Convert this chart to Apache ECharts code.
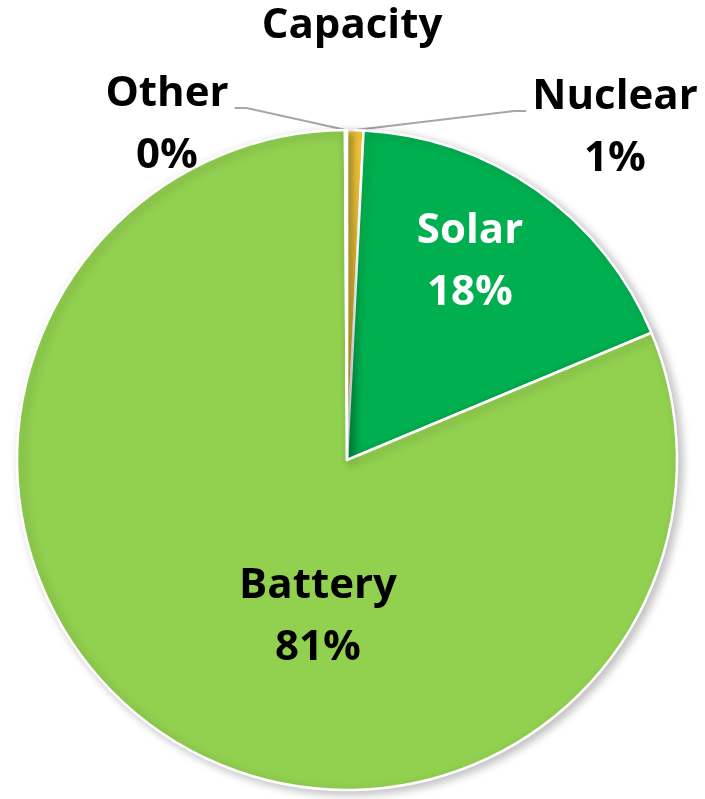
<!DOCTYPE html>
<html>
<head>
<meta charset="utf-8">
<script src="https://cdn.jsdelivr.net/npm/echarts@6/dist/echarts.min.js"></script>
<style>
html,body{margin:0;padding:0;background:#fff;}
#chart{width:705px;height:799px;}
</style>
</head>
<body>
<div id="chart"></div>
<script>
const categories = ['Nuclear', 'Solar', 'Battery', 'Other'];
const values = [0.8, 17.9, 81.2, 0.1];
const sliceColors = ['#FFD33D', '#00B050', '#92D050', '#A5A5A5'];
const labelColors = ['#000000', '#FFFFFF', '#000000', '#000000'];

const CX = 347, CY = 460, R = 330;
const FONT = '"Open Sans", "Liberation Sans", sans-serif';

// label anchor positions (label layout, not data)
const labelAnchors = {
  Nuclear: [615, 128],
  Solar: [470, 262],
  Battery: [318, 617],
  Other: [167, 125]
};

const total = values.reduce((a, b) => a + b, 0);
function midAngle(i) {
  let cum = 0;
  for (let k = 0; k < i; k++) cum += values[k];
  return ((cum + values[i] / 2) / total) * 2 * Math.PI; // clockwise from top
}

const chart = echarts.init(document.getElementById('chart'));
chart.setOption({
  animation: false,
  title: {
    text: 'Capacity',
    left: 347,
    top: 0,
    textAlign: 'center',
    textStyle: { fontFamily: FONT, fontWeight: 'bold', fontSize: 42, color: '#000' }
  },
  series: [{
    type: 'pie',
    center: [CX, CY],
    radius: R,
    startAngle: 90,
    clockwise: true,
    percentPrecision: 0,
    avoidLabelOverlap: false,
    itemStyle: {
      borderColor: '#FFFFFF',
      borderWidth: 2.5,
      shadowBlur: 10,
      shadowOffsetX: 4,
      shadowOffsetY: 3,
      shadowColor: 'rgba(0,0,0,0.25)'
    },
    label: {
      show: true,
      position: 'outside',
      formatter: '{b}\n{d}%',
      fontFamily: FONT,
      fontWeight: 'bold',
      fontSize: 42,
      lineHeight: 62,
      align: 'center'
    },
    labelLine: {
      show: true,
      length: 20,
      length2: 10,
      lineStyle: { color: '#A6A6A6', width: 2 }
    },
    labelLayout: function (params) {
      const i = params.dataIndex;
      const name = categories[i];
      const a = labelAnchors[name];
      const res = { x: a[0], y: a[1], align: 'center', verticalAlign: 'middle' };
      if (name === 'Nuclear' || name === 'Other') {
        const ang = midAngle(i);
        const sx = CX + R * Math.sin(ang);
        const sy = CY - R * Math.cos(ang);
        const w = params.labelRect.width;
        const lineY = a[1] - 17;
        if (name === 'Other') {
          const right = a[0] + w / 2;
          res.labelLinePoints = [[sx, sy], [right + 18, lineY], [right + 6, lineY]];
        } else {
          const left = a[0] - w / 2;
          res.labelLinePoints = [[sx, sy], [left - 18, lineY], [left - 6, lineY]];
        }
      }
      return res;
    },
    data: categories.map((c, i) => ({
      name: c,
      value: values[i],
      itemStyle: { color: sliceColors[i] },
      label: { color: labelColors[i] },
      labelLine: { show: c === 'Nuclear' || c === 'Other' }
    }))
  }]
});
</script>
</body>
</html>
